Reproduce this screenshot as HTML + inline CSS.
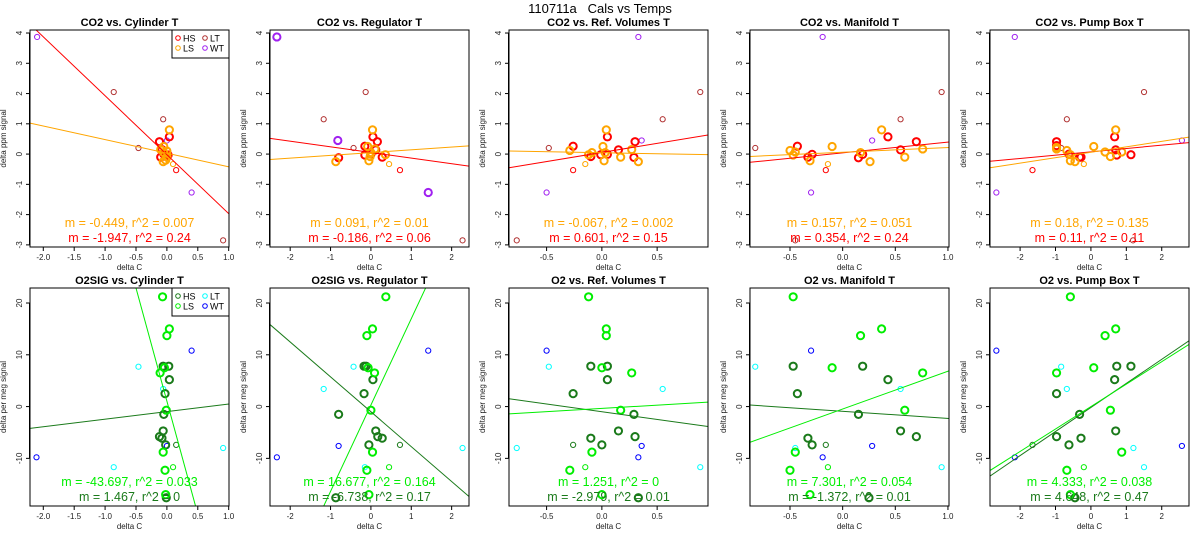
<!DOCTYPE html>
<html><head><meta charset="utf-8"><style>
html,body{margin:0;padding:0;background:#fff;overflow:hidden;width:1200px;height:550px;}
svg{display:block;font-family:"Liberation Sans",sans-serif;}
</style></head><body>
<svg id="chart" width="1200" height="550" xmlns="http://www.w3.org/2000/svg">
<rect width="1200" height="550" fill="#fff"/>
<text x="600" y="13" text-anchor="middle" font-size="13" fill="#000" style="white-space:pre">110711a   Cals vs Temps</text>
</svg>
<script>
// ---- panel settings (data) ----
const co2Titles = ["CO2 vs. Cylinder T","CO2 vs. Regulator T","CO2 vs. Ref. Volumes T","CO2 vs. Manifold T","CO2 vs. Pump Box T"];
const o2Titles = ["O2SIG vs. Cylinder T","O2SIG vs. Regulator T","O2 vs. Ref. Volumes T","O2 vs. Manifold T","O2 vs. Pump Box T"];
const xMin = [-2.215,-2.5,-0.84,-0.88,-2.85];
const xMax = [1.005,2.43,0.96,1.01,2.77];
const xTicks = [[-2,-1.5,-1,-0.5,0,0.5,1],[-2,-1,0,1,2],[-0.5,0,0.5],[-0.5,0,0.5,1],[-2,-1,0,1,2]];
const xTickDecimals = [1,0,1,1,0];
const co2YTicks = [-3,-2,-1,0,1,2,3,4];
const o2YTicks = [-10,0,10,20];

// CO2 points
const co2HsX = [[-0.12,0.04,-0.08,-0.02,0.02,-0.1,-0.05],[0.05,0.16,-0.15,0.12,-0.15,0.28,-0.8,0.0],[0.05,0.3,-0.26,0.15,0.05,-0.1,-0.01,0.29],[0.43,0.7,-0.43,0.55,-0.33,-0.29,0.19,0.15],[0.67,-0.97,-0.97,0.7,1.13,0.73,-0.32,-0.28,-0.62]];
const co2HsY = [[0.41,0.57,0.15,-0.05,-0.03,-0.1,0.0],[0.57,0.41,0.26,0.14,-0.03,-0.1,-0.12,0.0],[0.57,0.41,0.26,0.14,-0.01,-0.08,-0.02,-0.11],[0.57,0.41,0.26,0.14,-0.1,-0.01,-0.01,-0.12],[0.57,0.41,0.28,0.14,-0.02,-0.03,-0.1,-0.1,0.0]];
const co2LsX = [[0.04,-0.05,-0.1,-0.05,0,-0.02,-0.06,0.0],[0.04,-0.08,0.1,0.36,-0.87,-0.05,0.0,-0.02],[0.04,0.01,-0.29,0.27,-0.09,-0.12,0.03,0.17,0.02,0.33],[0.37,-0.1,-0.5,0.76,-0.47,-0.45,0.17,0.59,-0.31,0.26],[0.7,-0.97,-0.97,-0.68,0.08,0.4,0.87,0.55,-0.58,-0.45,-0.58]];
const co2LsY = [[0.8,0.25,0.15,0.05,0.1,-0.2,-0.25,-0.1],[0.8,0.25,0.17,-0.02,-0.25,-0.22,0.05,-0.08],[0.8,0.25,0.12,0.15,0.05,-0.02,0.05,-0.1,-0.22,-0.25],[0.8,0.25,0.12,0.17,-0.03,0.07,0.05,-0.1,-0.22,-0.25],[0.8,0.22,0.17,0.12,0.25,0.07,0.07,-0.08,-0.22,-0.25,-0.02]];
const co2LtY = [2.05,1.15,0.2,-2.85];
const co2LtX = [[-0.86,-0.06,-0.46,0.91],[-0.13,-1.17,-0.43,2.27],[0.89,0.55,-0.48,-0.77],[0.94,0.55,-0.83,-0.45],[1.5,-0.68,-0.84,1.19]];
const co2WtY = [3.87,0.45,-1.27];
const co2WtX = [[-2.1,0.0,0.4],[-2.33,-0.82,1.42],[0.33,0.36,-0.5],[-0.19,0.28,-0.3],[-2.15,2.57,-2.67]];
const co2HsThinY = [-0.53];
const co2HsThinX = [[0.15],[0.72],[-0.26],[-0.16],[-1.65]];
const co2LsThinY = [-0.33];
const co2LsThinX = [[0.1],[0.45],[-0.15],[-0.14],[-0.2]];
const co2HsSlope = [-1.947,-0.186,0.601,0.354,0.11];
const co2HsIcpt = [-0.02,0.055,0.055,0.04,0.075];
const co2LsSlope = [-0.449,0.091,-0.067,0.157,0.18];
const co2LsIcpt = [0.03,0.05,0.045,0.06,0.06];
const co2HsText = ["m = -1.947, r^2 = 0.24","m = -0.186, r^2 = 0.06","m = 0.601, r^2 = 0.15","m = 0.354, r^2 = 0.24","m = 0.11, r^2 = 0.11"];
const co2LsText = ["m = -0.449, r^2 = 0.007","m = 0.091, r^2 = 0.01","m = -0.067, r^2 = 0.002","m = 0.157, r^2 = 0.051","m = 0.18, r^2 = 0.135"];

// O2 points
const o2HsY = [7.8,7.8,5.2,2.5,-1.5,-4.7,-5.8,-6.1,-7.4,-17.6];
const o2HsX = [[-0.06,0.03,0.04,-0.03,-0.05,-0.06,-0.12,-0.08,-0.02,-0.01],[-0.17,-0.12,0.05,-0.17,-0.8,0.12,0.17,0.28,-0.05,-0.87],[-0.1,0.05,0.05,-0.26,0.29,0.15,0.3,-0.1,0.0,0.33],[-0.47,0.19,0.43,-0.43,0.15,0.55,0.7,-0.33,-0.29,0.25],[0.73,1.13,0.67,-0.97,-0.32,0.7,-0.97,-0.28,-0.62,-0.45]];
const o2LsY = [21.2,15,13.7,7.5,6.5,-0.7,-8.8,-12.3,-17];
const o2LsX = [[-0.07,0.04,0.0,-0.04,-0.11,-0.01,-0.06,-0.03,-0.02],[0.37,0.04,-0.1,-0.07,0.09,0.0,0.04,-0.1,-0.05],[-0.12,0.04,0.04,0.0,0.27,0.17,-0.09,-0.29,0.0],[-0.47,0.37,0.17,-0.1,0.76,0.59,-0.45,-0.5,-0.31],[-0.58,0.7,0.4,0.08,-0.97,0.55,0.87,-0.68,-0.58]];
const o2LtY = [7.7,3.4,-11.7,-8];
const o2LtX = [[-0.46,-0.06,-0.86,0.91],[-0.43,-1.17,-0.15,2.27],[-0.48,0.55,0.89,-0.77],[-0.83,0.55,0.94,-0.45],[-0.84,-0.68,1.5,1.2]];
const o2WtY = [10.8,-9.8,-7.6];
const o2WtX = [[0.4,-2.11,0.0],[1.42,-2.33,-0.8],[-0.5,0.33,0.36],[-0.3,-0.19,0.28],[-2.67,-2.15,2.57]];
const o2HsThinY = [-7.4];
const o2HsThinX = [[0.15],[0.72],[-0.26],[-0.16],[-1.65]];
const o2LsThinY = [-11.7];
const o2LsThinX = [[0.1],[0.45],[-0.15],[-0.14],[-0.2]];
const o2HsSlope = [1.467,-6.738,-2.979,-1.372,4.648];
const o2HsIcpt = [-0.97,-1.0,-1.0,-0.91,-0.17];
const o2LsSlope = [-43.697,16.677,1.251,7.301,4.333];
const o2LsIcpt = [1.05,0.3,-0.35,-0.47,0.0];
const o2HsText = ["m = 1.467, r^2 = 0","m = -6.738, r^2 = 0.17","m = -2.979, r^2 = 0.01","m = -1.372, r^2 = 0.01","m = 4.648, r^2 = 0.47"];
const o2LsText = ["m = -43.697, r^2 = 0.033","m = 16.677, r^2 = 0.164","m = 1.251, r^2 = 0","m = 7.301, r^2 = 0.054","m = 4.333, r^2 = 0.038"];

const NS = "http://www.w3.org/2000/svg";
const svg = document.getElementById('chart');
const boxLeft = [30,270,509,750,990];
const BW = 199;
function mk(tag, attrs, parent){const e=document.createElementNS(NS,tag);for(const k in attrs)e.setAttribute(k,attrs[k]);(parent||svg).appendChild(e);return e;}

function drawPanel(row, p){
  const top = row===0?30:288, bot = row===0?247:506;
  const yLo = row===0?-3.07:-19.2, yHi = row===0?4.1:22.9;
  const L = boxLeft[p], R = L+BW;
  const sx = v => L + (v - xMin[p])/(xMax[p]-xMin[p])*BW;
  const sy = v => bot - (v - yLo)/(yHi-yLo)*(bot-top);
  const g = mk('g',{});
  
  
  const cid = 'clip'+row+'_'+p;
  const cp = mk('clipPath',{id:cid},g); mk('rect',{x:L,y:top,width:BW,height:bot-top},cp);
  const title = mk('text',{x:L+BW/2,y:top-4,'text-anchor':'middle','font-size':'11','font-weight':'bold'},g);
  title.textContent = row===0?co2Titles[p]:o2Titles[p];
  
  
  const yT = row===0?co2YTicks:o2YTicks;
  yT.forEach(t=>{
    const y=sy(t);
    mk('line',{x1:L-4,x2:L,y1:y,y2:y,stroke:'#000','stroke-width':1},g);
    const tx=mk('text',{x:L-8,y:y,'font-size':'8','text-anchor':'middle',transform:`rotate(-90 ${L-8} ${y})`,fill:'#222'},g);
    tx.textContent=String(t);
    
    
  });
  mk('line',{x1:L-0.5,x2:L-0.5,y1:sy(yT[0]),y2:sy(yT[yT.length-1]),stroke:'#000'},g);
  xTicks[p].forEach(t=>{
    const x=sx(t);
    mk('line',{x1:x,x2:x,y1:bot,y2:bot+4,stroke:'#000'},g);
    const tx=mk('text',{x:x,y:bot+13,'font-size':'8','text-anchor':'middle',fill:'#222'},g);
    tx.textContent=t.toFixed(xTickDecimals[p]);
    
    
  });
  const xt=mk('text',{x:L+BW/2,y:bot+23,'font-size':'8','text-anchor':'middle',fill:'#222'},g);
  xt.textContent='delta C';
  
  
  const yx=L-24, yy=(top+bot)/2;
  const yt=mk('text',{x:yx,y:yy,'font-size':'8','text-anchor':'middle',transform:`rotate(-90 ${yx} ${yy})`,fill:'#222'},g);
  yt.textContent=row===0?'delta ppm signal':'delta per meg signal';
  
  
  const cHs = row===0?'#ff0000':'#1a7a1a', cLs = row===0?'#ffa500':'#00ee00';
  const cLt = row===0?'#b03030':'#00ffff', cWt = row===0?'#a020f0':'#0000ff';
  const pts = row===0?[
    [co2LtX[p],co2LtY,cLt,false,'lt'],[co2WtX[p],co2WtY,cWt,p===1,'wt'],
    [co2HsThinX[p],co2HsThinY,cHs,false,'hs-thin'],[co2LsThinX[p],co2LsThinY,cLs,false,'ls-thin'],
    [co2HsX[p],co2HsY[p],cHs,true,'hs'],[co2LsX[p],co2LsY[p],cLs,true,'ls']]:[
    [o2LtX[p],o2LtY,cLt,false,'lt'],[o2WtX[p],o2WtY,cWt,false,'wt'],
    [o2HsThinX[p],o2HsThinY,cHs,false,'hs-thin'],[o2LsThinX[p],o2LsThinY,cLs,false,'ls-thin'],
    [o2HsX[p],o2HsY,cHs,true,'hs'],[o2LsX[p],o2LsY,cLs,true,'ls']];
  pts.forEach(([xs,ys,col,thick,nm])=>{
    xs.forEach((xv,i)=>{
      const c=mk('circle',{cx:sx(xv),cy:sy(ys[i]),r:thick?3.6:2.6,fill:'none',stroke:col,'stroke-width':thick?2:1},g);
      
      
    });
  });
  const lines = row===0?[[co2HsSlope[p],co2HsIcpt[p],cHs,'hs'],[co2LsSlope[p],co2LsIcpt[p],cLs,'ls']]:[[o2HsSlope[p],o2HsIcpt[p],cHs,'hs'],[o2LsSlope[p],o2LsIcpt[p],cLs,'ls']];
  lines.forEach(([m,b,col,nm])=>{
    const x0=xMin[p], x1=xMax[p];
    const ln=mk('line',{x1:sx(x0),y1:sy(m*x0+b),x2:sx(x1),y2:sy(m*x1+b),stroke:col,'stroke-width':1,'clip-path':`url(#${cid})`},g);
    
    
  });
  const t1=mk('text',{x:L+BW/2,y:row===0?227:486,'font-size':'12.5','text-anchor':'middle',fill:cLs},g);
  t1.textContent=row===0?co2LsText[p]:o2LsText[p];
  
  
  const t2=mk('text',{x:L+BW/2,y:row===0?242:501,'font-size':'12.5','text-anchor':'middle',fill:cHs},g);
  t2.textContent=row===0?co2HsText[p]:o2HsText[p];
  
  
  mk('rect',{x:L,y:top,width:BW,height:bot-top,fill:'none',stroke:'#000','stroke-width':1},g);
  if(p===0){
    const lg=mk('g',{},g);
    
    
    mk('rect',{x:172,y:top,width:57,height:28,fill:'#fff',stroke:'#000'},lg);
    [['HS',cHs,178,top+8],['LS',cLs,178,top+18],['LT',cLt,205,top+8],['WT',cWt,205,top+18]].forEach(([lab,col,x,y])=>{
      mk('circle',{cx:x,cy:y,r:2.3,fill:'none',stroke:col},lg);
      const t=mk('text',{x:x+5,y:y+3.5,'font-size':'9',fill:'#000'},lg);
      t.textContent=lab;
      
      
    });
  }
}
for(let r=0;r<2;r++)for(let p=0;p<5;p++)drawPanel(r,p);
</script>
</body></html>
